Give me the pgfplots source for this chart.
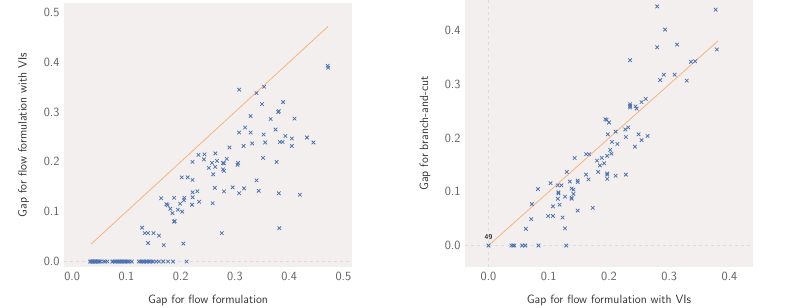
\documentclass[border=0pt]{standalone}
\usepackage{fontspec}
\usepackage{pgfplots}
\pgfplotsset{compat=1.18}
\renewcommand{\familydefault}{\sfdefault}
\definecolor{bg}{HTML}{F3EFEF}
\definecolor{mk}{HTML}{4C72B0}
\definecolor{ln}{HTML}{F7B37B}
\definecolor{tk}{HTML}{606060}
\definecolor{zl}{HTML}{DCDCDC}

\pgfplotstableread{
x y
0.308 0.345
0.340 0.338
0.354 0.351
0.350 0.316
0.389 0.320
0.329 0.292
0.380 0.300
0.381 0.302
0.366 0.286
0.410 0.287
0.308 0.259
0.319 0.269
0.329 0.259
0.353 0.255
0.375 0.265
0.393 0.252
0.405 0.247
0.433 0.249
0.445 0.239
0.383 0.240
0.388 0.240
0.356 0.239
0.332 0.237
0.316 0.232
0.405 0.232
0.290 0.229
0.233 0.214
0.244 0.215
0.264 0.217
0.243 0.205
0.285 0.206
0.267 0.202
0.222 0.200
0.258 0.198
0.278 0.198
0.280 0.197
0.306 0.198
0.305 0.194
0.352 0.208
0.377 0.200
0.252 0.188
0.264 0.190
0.278 0.185
0.280 0.182
0.260 0.175
0.202 0.169
0.213 0.169
0.222 0.164
0.340 0.163
0.296 0.149
0.263 0.148
0.317 0.147
0.280 0.141
0.344 0.142
0.231 0.141
0.222 0.139
0.308 0.137
0.381 0.137
0.420 0.134
0.164 0.127
0.188 0.128
0.207 0.128
0.222 0.129
0.206 0.123
0.234 0.120
0.199 0.116
0.174 0.115
0.176 0.113
0.259 0.117
0.221 0.114
0.181 0.106
0.195 0.104
0.203 0.100
0.185 0.097
0.188 0.080
0.189 0.081
0.129 0.068
0.134 0.057
0.140 0.057
0.150 0.057
0.160 0.052
0.382 0.067
0.276 0.057
0.140 0.037
0.169 0.033
0.205 0.036
0.471 0.393
0.472 0.389
0.033 0
0.035 0
0.037 0
0.038 0
0.040 0
0.042 0
0.043 0
0.045 0
0.047 0
0.048 0
0.050 0
0.052 0
0.058 0
0.061 0
0.065 0
0.074 0
0.076 0
0.079 0
0.082 0
0.084 0
0.086 0
0.088 0
0.091 0
0.093 0
0.096 0
0.098 0
0.100 0
0.103 0
0.106 0
0.110 0
0.123 0
0.126 0
0.128 0
0.131 0
0.133 0
0.136 0
0.138 0
0.141 0
0.143 0
0.146 0
0.149 0
0.155 0
0.160 0
0.168 0
0.177 0
0.186 0
0.211 0
}\lefttable

\pgfplotstableread{
x y
0.280 0.445
0.377 0.439
0.293 0.402
0.280 0.369
0.313 0.374
0.379 0.365
0.235 0.345
0.336 0.342
0.343 0.343
0.285 0.308
0.291 0.318
0.309 0.318
0.329 0.307
0.261 0.273
0.254 0.267
0.244 0.259
0.246 0.255
0.235 0.263
0.235 0.260
0.235 0.257
0.194 0.235
0.196 0.234
0.200 0.229
0.232 0.220
0.227 0.216
0.211 0.212
0.198 0.207
0.249 0.207
0.264 0.204
0.228 0.202
0.254 0.196
0.205 0.193
0.214 0.189
0.243 0.184
0.202 0.178
0.204 0.171
0.162 0.170
0.167 0.170
0.143 0.163
0.197 0.167
0.188 0.163
0.180 0.158
0.192 0.153
0.185 0.149
0.130 0.137
0.182 0.137
0.162 0.132
0.197 0.134
0.197 0.132
0.211 0.130
0.228 0.132
0.166 0.123
0.197 0.124
0.103 0.116
0.115 0.112
0.121 0.112
0.135 0.119
0.148 0.121
0.148 0.118
0.116 0.099
0.116 0.097
0.138 0.106
0.141 0.104
0.141 0.096
0.115 0.087
0.127 0.091
0.138 0.089
0.138 0.087
0.082 0.105
0.072 0.077
0.107 0.073
0.118 0.076
0.173 0.070
0.148 0.065
0.099 0.055
0.107 0.055
0.123 0.052
0.071 0.049
0.062 0.031
0.127 0.032
0.000 0.000
0.038 0.000
0.041 0.000
0.043 0.000
0.056 0.000
0.061 0.000
0.083 0.000
0.129 0.000
}\righttable

\pgfplotsset{
  mystyle/.style={
    scale only axis,
    axis background/.style={fill=bg},
    axis line style={draw=none},
    major tick length=0pt,
    tick style={draw=none},
    ticklabel style={font=\fontsize{12.5}{14}\selectfont, text=tk},
    /pgf/number format/assume math mode=true,
    xticklabel={\pgfmathprintnumber[fixed,fixed zerofill,precision=1]{\tick}},
    yticklabel={\pgfmathprintnumber[fixed,fixed zerofill,precision=1]{\tick}},
    xticklabel style={yshift=-2pt},
    yticklabel style={xshift=-1pt},
    label style={font=\fontsize{12}{14}\selectfont, text=black!80},
    extra y ticks={0},
    extra y tick labels={},
    extra y tick style={grid=major, major grid style={dashed, zl, line width=0.6pt}},
    clip=false,
  },
  scat/.style={only marks, mark=x, mark size=2.5pt, color=mk, mark options={line width=0.75pt}},
}

\begin{document}
\begin{tikzpicture}
\useasboundingbox (0,0) rectangle (793pt,308pt);
\begin{axis}[mystyle,
  at={(64pt,41pt)}, anchor=south west,
  width=288pt, height=264pt,
  xmin=-0.015, xmax=0.516, ymin=-0.011, ymax=0.519,
  xtick={0,0.1,0.2,0.3,0.4,0.5},
  ytick={0,0.1,0.2,0.3,0.4,0.5},
  xlabel={Gap for flow formulation},
  ylabel={Gap for flow formulation with VIs},
  xlabel style={at={(axis description cs:0.5,-0.125)}, anchor=center},
  ylabel style={at={(axis description cs:-0.14,0.5)}, anchor=center},
]
\addplot[ln, line width=0.8pt] coordinates {(0.035,0.035) (0.472,0.472)};
\addplot[scat] table[x=x,y=y] {\lefttable};
\end{axis}

\begin{axis}[mystyle,
  at={(465pt,41pt)}, anchor=south west,
  width=288pt, height=267pt,
  xmin=-0.039, xmax=0.439, ymin=-0.040, ymax=0.457,
  xtick={0,0.1,0.2,0.3,0.4},
  ytick={0,0.1,0.2,0.3,0.4},
  extra x ticks={0},
  extra x tick labels={},
  extra x tick style={grid=major, major grid style={dashed, zl, line width=0.6pt}},
  xlabel={Gap for flow formulation with VIs},
  ylabel={Gap for branch-and-cut},
  xlabel style={at={(axis description cs:0.5,-0.124)}, anchor=center},
  ylabel style={at={(axis description cs:-0.139,0.5)}, anchor=center},
]
\addplot[ln, line width=0.8pt] coordinates {(0,0) (0.381,0.381)};
\addplot[scat] table[x=x,y=y] {\righttable};
\node[anchor=south, font=\fontsize{7}{8}\selectfont\bfseries, text=black!80, yshift=2pt] at (axis cs:0,0) {49};
\end{axis}
\end{tikzpicture}
\end{document}
